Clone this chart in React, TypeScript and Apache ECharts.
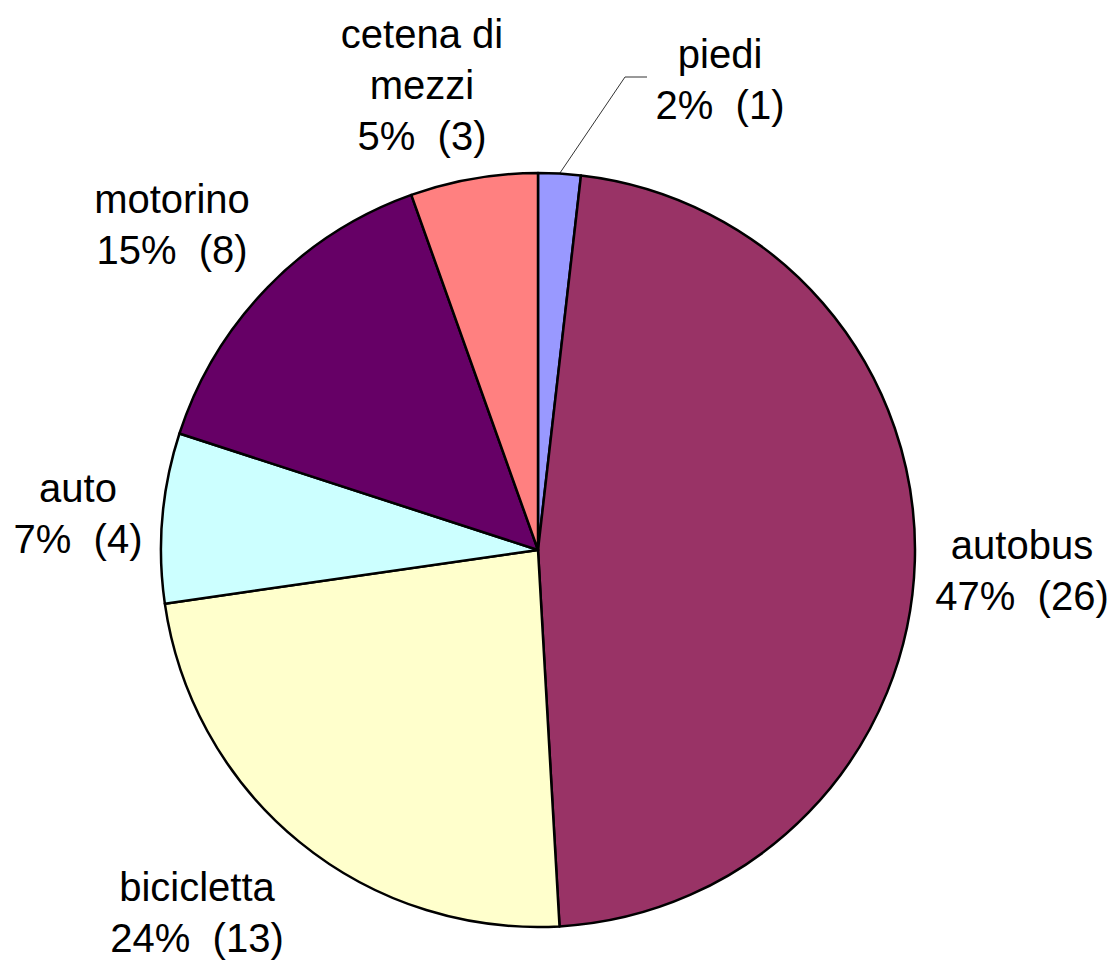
import React, { useEffect, useRef } from "react";
import * as echarts from "echarts";

const CATEGORIES = ["piedi", "autobus", "bicicletta", "auto", "motorino", "cetena di mezzi"];
const LABEL_NAMES = ["piedi", "autobus", "bicicletta", "auto", "motorino", "cetena di\nmezzi"];
const VALUES = [1, 26, 13, 4, 8, 3];
const COLORS = ["#9999FF", "#993366", "#FFFFCC", "#CCFFFF", "#660066", "#FF8080"];
// label block centres (layout only)
const LABEL_POS: [number, number][] = [
  [720, 79],
  [1022, 570],
  [197, 912],
  [78, 513],
  [172, 224],
  [422, 85],
];

export default function App() {
  const ref = useRef<HTMLDivElement>(null);
  useEffect(() => {
    document.body.style.margin = "0";
    const chart = echarts.init(ref.current!, null, { renderer: "svg" });
    const total = VALUES.reduce((a, b) => a + b, 0);
    chart.setOption({
      animation: false,
      backgroundColor: "#ffffff",
      series: [
        {
          type: "pie",
          center: [538, 550],
          radius: 377,
          startAngle: 90,
          clockwise: true,
          avoidLabelOverlap: false,
          itemStyle: { borderColor: "#000000", borderWidth: 2.5 },
          label: {
            show: true,
            color: "#000000",
            fontFamily: "Arial, 'Liberation Sans', sans-serif",
            fontSize: 40,
            lineHeight: 51,
            align: "center",
            formatter: (p: any) =>
              `${LABEL_NAMES[p.dataIndex]}\n${Math.round((p.value / total) * 100)}%  (${p.value})`,
          },
          labelLine: { show: false },
          emphasis: { disabled: true },
          data: CATEGORIES.map((name, i) => ({
            name,
            value: VALUES[i],
            itemStyle: { color: COLORS[i] },
            labelLine:
              i === 0
                ? { show: true, lineStyle: { color: "#333333", width: 1 } }
                : { show: false },
          })),
          labelLayout: (params: any) => {
            const i = params.dataIndex;
            const [x, y] = LABEL_POS[i];
            const res: any = { x, y, align: "center", verticalAlign: "middle" };
            if (i === 0) {
              const ang = ((0.5 / total) * 360 * Math.PI) / 180;
              const sx = 538 + 377 * Math.sin(ang);
              const sy = 550 - 377 * Math.cos(ang);
              res.labelLinePoints = [
                [sx, sy],
                [625, 77],
                [647, 77],
              ];
            }
            return res;
          },
        },
      ],
    });
    return () => chart.dispose();
  }, []);
  return <div ref={ref} style={{ width: 1118, height: 960 }} />;
}
